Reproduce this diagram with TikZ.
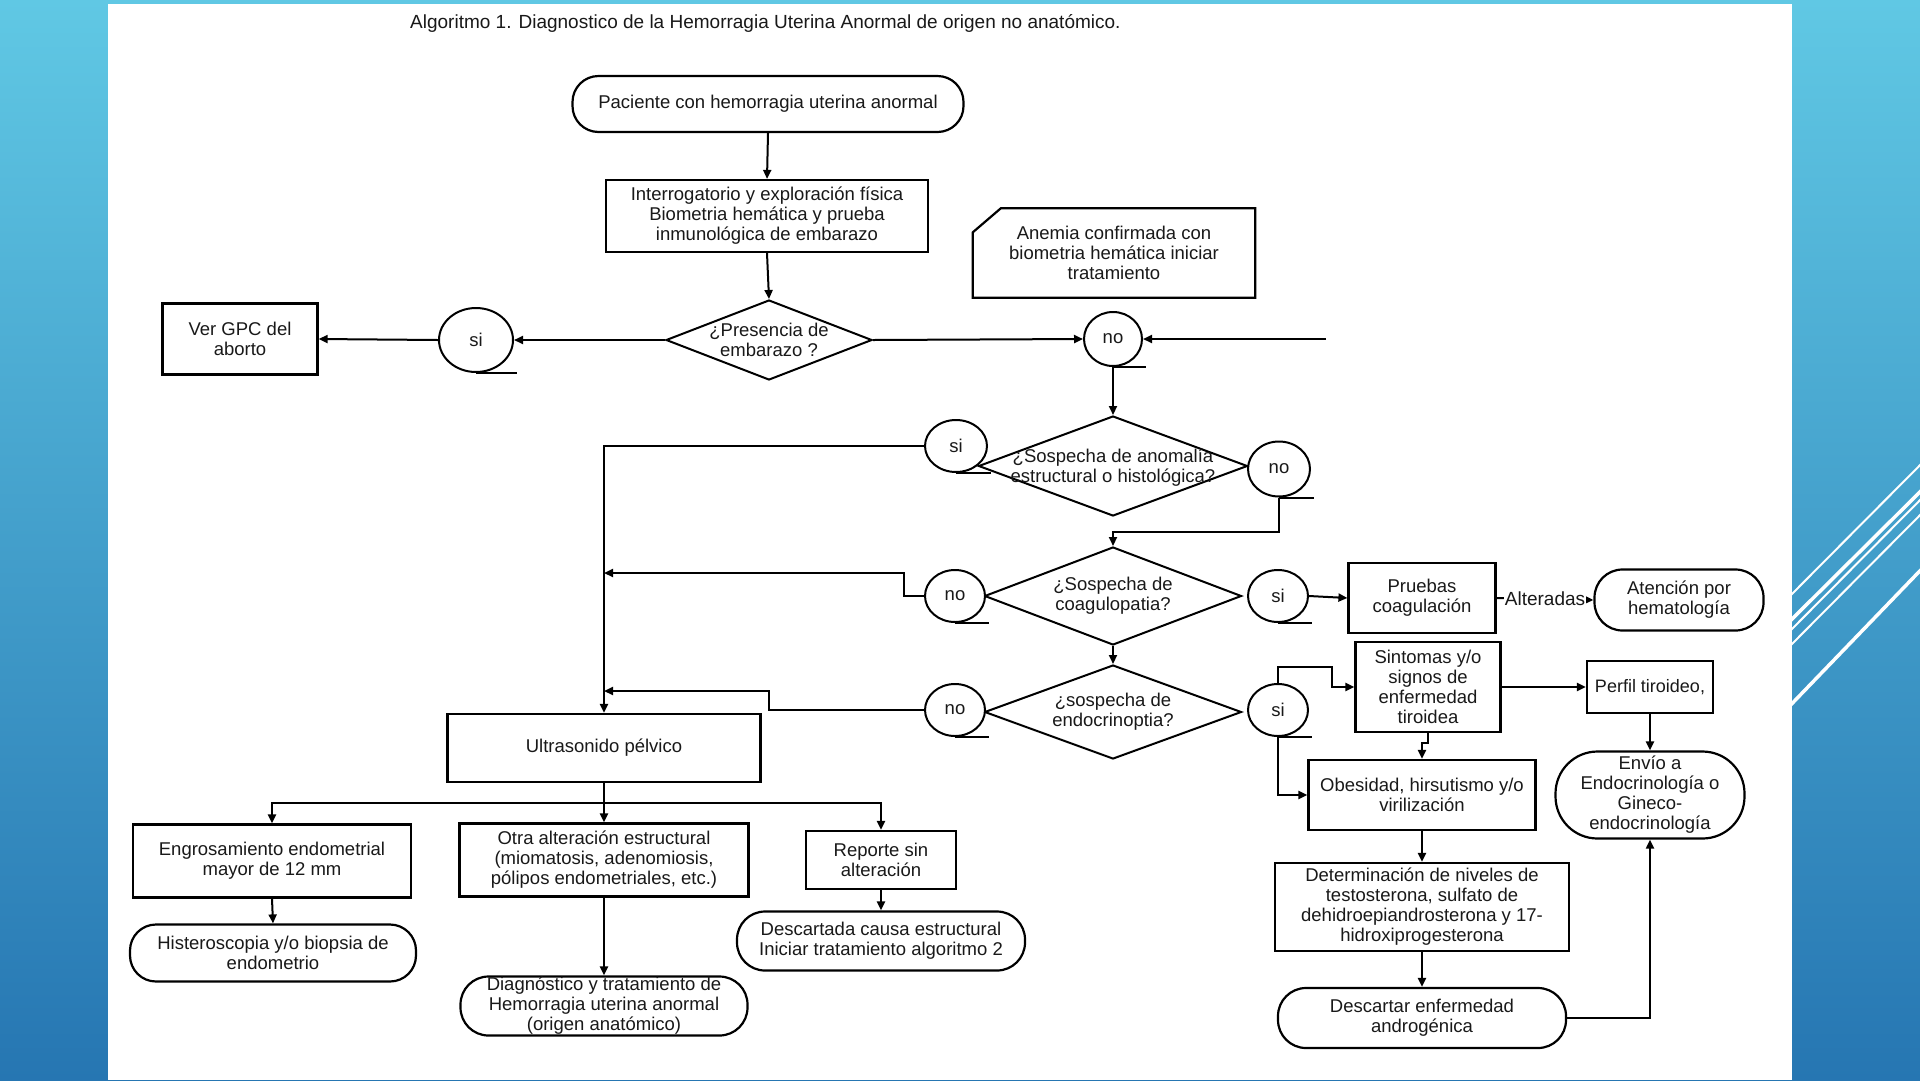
\documentclass[tikz,border=0pt]{standalone}
\usepackage{fontspec}
\setmainfont{Liberation Sans}
\usetikzlibrary{arrows.meta,shapes.geometric,calc}
\definecolor{bgtop}{RGB}{96,200,228}
\definecolor{bgbot}{RGB}{38,118,178}
\begin{document}
\begin{tikzpicture}[x=1pt,y=-1pt,
  every node/.style={font=\fontsize{18.5}{20}\selectfont, align=center, inner sep=0pt, text=black!90},
  box/.style={draw, line width=2.2pt, rectangle, fill=white},
  term/.style={draw, line width=2.2pt, rectangle, rounded corners=26pt, fill=white},
  dia/.style={draw, line width=2pt, diamond, aspect=2.6, fill=white},
  circ/.style={draw, line width=2pt, ellipse, fill=white},
  arr/.style={line width=2pt, -{Triangle[length=9pt,width=8pt]}},
  ln/.style={line width=2pt},
  deco/.style={white, line width=2pt},
  decob/.style={white, line width=3.5pt}
]
\useasboundingbox (0,0) rectangle (1920,1080);
% background
\shade[top color=bgtop, bottom color=bgbot] (0,0) rectangle (1920,1080);
\draw[deco]  (1780,606) -- (1940,445);
\draw[decob] (1780,631) -- (1940,472);
\draw[deco]  (1780,641) -- (1940,480);
\draw[deco]  (1780,656) -- (1940,495);
\draw[decob] (1780,716) -- (1940,550);
\fill[white] (108,4) rectangle (1792,1080);

% title
\node[anchor=west, font=\fontsize{19}{20}\selectfont] (title) at (410,23) {Algoritmo 1. Diagnostico de la Hemorragia Uterina Anormal de origen no anatómico.};

% top
\node[term, minimum width=391pt, minimum height=56pt] (n1) at (768,104) {Paciente con hemorragia uterina anormal};
\node[box, minimum width=322pt, minimum height=72pt] (n2) at (767,216) {Interrogatorio y exploración física\\Biometria hemática y prueba\\inmunológica de embarazo};
\node[minimum width=282pt, minimum height=89pt] (anemia) at (1114,253) {Anemia confirmada con\\biometria hemática iniciar\\tratamiento};
\draw[line width=2.2pt] ($(anemia.north west)+(28,0)$) -- (anemia.north east) -- (anemia.south east) -- (anemia.south west) -- ($(anemia.north west)+(0,24)$) -- cycle;

\node[dia, minimum width=206pt, minimum height=80pt] (d1) at (769,340) {};
\node (d1t) at (d1) {¿Presencia de\\embarazo ?};
\node[circ, minimum width=74pt, minimum height=64pt] (si1) at (476,340) {si};
\node[box, minimum width=155pt, minimum height=71pt] (gpc) at (240,339) {Ver GPC del\\aborto};
\node[circ, minimum width=58pt, minimum height=54pt] (no1) at (1113,339) {no};
\coordinate (rin) at (1326,339);

% diamond 2
\node[dia, minimum width=269pt, minimum height=100pt] (d2) at (1113,466) {};
\node (d2t) at (1113,468) {¿Sospecha de anomalía\\estructural o histológica?};
\node[circ, minimum width=62pt, minimum height=52pt] (si2) at (956,446) {si};
\node[circ, minimum width=62pt, minimum height=55pt] (no2) at (1279,469) {no};

% diamond 3
\node[dia, minimum width=257pt, minimum height=98pt] (d3) at (1113,596) {};
\node (d3t) at (d3) {¿Sospecha de\\coagulopatia?};
\node[circ, minimum width=60pt, minimum height=52pt] (no3) at (955,596) {no};
\node[circ, minimum width=60pt, minimum height=52pt] (si3) at (1278,596) {si};
\node[box, minimum width=147pt, minimum height=70pt] (pruebas) at (1422,598) {Pruebas\\coagulación};
\node[term, minimum width=169pt, minimum height=61pt, rounded corners=28pt] (aten) at (1679,600) {Atención por\\hematología};

% diamond 4
\node[dia, minimum width=257pt, minimum height=94pt] (d4) at (1113,712) {};
\node (d4t) at (d4) {¿sospecha de\\endocrinoptia?};
\node[circ, minimum width=60pt, minimum height=52pt] (no4) at (955,710) {no};
\node[circ, minimum width=60pt, minimum height=52pt] (si4) at (1278,710) {si};

% right column
\node[box, minimum width=145pt, minimum height=90pt] (sint) at (1428,687) {Sintomas y/o\\signos de\\enfermedad\\tiroidea};
\node[box, minimum width=126pt, minimum height=52pt, font=\fontsize{18}{20}\selectfont] (perfil) at (1650,687) {Perfil tiroideo,};
\node[term, minimum width=189pt, minimum height=87pt, rounded corners=42pt] (envio) at (1650,795) {Envío a\\Endocrinología o\\Gineco-\\endocrinología};
\node[box, minimum width=227pt, minimum height=70pt] (obes) at (1422,795) {Obesidad, hirsutismo y/o\\virilización};
\node[box, minimum width=294pt, minimum height=88pt] (deter) at (1422,907) {Determinación de niveles de\\testosterona, sulfato de\\dehidroepiandrosterona y 17-\\hidroxiprogesterona};
\node[term, minimum width=288pt, minimum height=60pt, rounded corners=28pt] (descar) at (1422,1018) {Descartar enfermedad\\androgénica};

% left column
\node[box, minimum width=313pt, minimum height=68pt] (ultra) at (604,748) {Ultrasonido pélvico};
\coordinate (jb) at (604,803);
\node[box, minimum width=278pt, minimum height=73pt] (engr) at (272,861) {Engrosamiento endometrial\\mayor de 12 mm};
\node[term, minimum width=286pt, minimum height=57pt] (hist) at (273,953) {Histeroscopia y/o biopsia de\\endometrio};
\node[box, minimum width=289pt, minimum height=73pt] (otra) at (604,860) {Otra alteración estructural\\(miomatosis, adenomiosis,\\pólipos endometriales, etc.)};
\node[term, minimum width=287pt, minimum height=59pt, rounded corners=28pt] (diag) at (604,1006) {Diagnóstico y tratamiento de\\Hemorragia uterina anormal\\(origen anatómico)};
\node[box, minimum width=150pt, minimum height=58pt] (repo) at (881,860) {Reporte sin\\alteración};
\node[term, minimum width=288pt, minimum height=59pt, rounded corners=28pt] (descada) at (881,941) {Descartada causa estructural\\Iniciar tratamiento algoritmo 2};

% connector tails
\foreach \c in {si1,no1,si2,no2,no3,si3,no4,si4}
  \draw[ln] (\c.south) -- ($(\c.south -| \c.east)+(3,0)$);

% connectors
\draw[arr] (n1.south) -- (n2.north);
\draw[arr] (n2.south) -- (d1.north);
\draw[arr] (d1.west) -- (si1.east);
\draw[arr] (si1.west) -- (gpc.east);
\draw[arr] (d1.east) -- (no1.west);
\draw[arr] (rin) -- (no1.east);
\draw[arr] (no1.south) -- (d2.north);
\draw[arr] (si2.west) -| (ultra.north);
\draw[arr] (no2.south) |- ($(d3.north)+(0,-14)$) -- (d3.north);
\coordinate (k3) at (904,573);
\draw[arr] (no3.west) -| (k3) -- (ultra.north |- k3);
\draw[arr] (d3.south) -- (d4.north);
\draw[arr] (si3.east) -- (pruebas.west);
\draw[arr] (pruebas.east) -- node[fill=white, inner sep=1pt, font=\fontsize{19}{20}\selectfont] (alt) {Alteradas} (aten.west);
\coordinate (k4) at (769,691);
\draw[arr] (no4.west) -| (k4) -- (ultra.north |- k4);
\coordinate (k5) at (1332,667);
\draw[arr] (si4.north) |- (k5) |- (sint.west);
\draw[arr] (si4.south) |- (obes.west);
\draw[arr] (sint.east) -- (perfil.west);
\draw[arr] (sint.south) -- ++(0,10) -| (obes.north);
\draw[arr] (perfil.south) -- (envio.north);
\draw[arr] (obes.south) -- (deter.north);
\draw[arr] (deter.south) -- (descar.north);
\draw[arr] (descar.east) -| (envio.south);
\draw[ln] (ultra.south) -- (jb);
\draw[arr] (jb) -| (engr.north);
\draw[arr] (jb) -| (repo.north);
\draw[arr] (jb) -- (otra.north);
\draw[arr] (engr.south) -- (hist.north);
\draw[arr] (otra.south) -- (diag.north);
\draw[arr] (repo.south) -- (descada.north);
\end{tikzpicture}
\end{document}
